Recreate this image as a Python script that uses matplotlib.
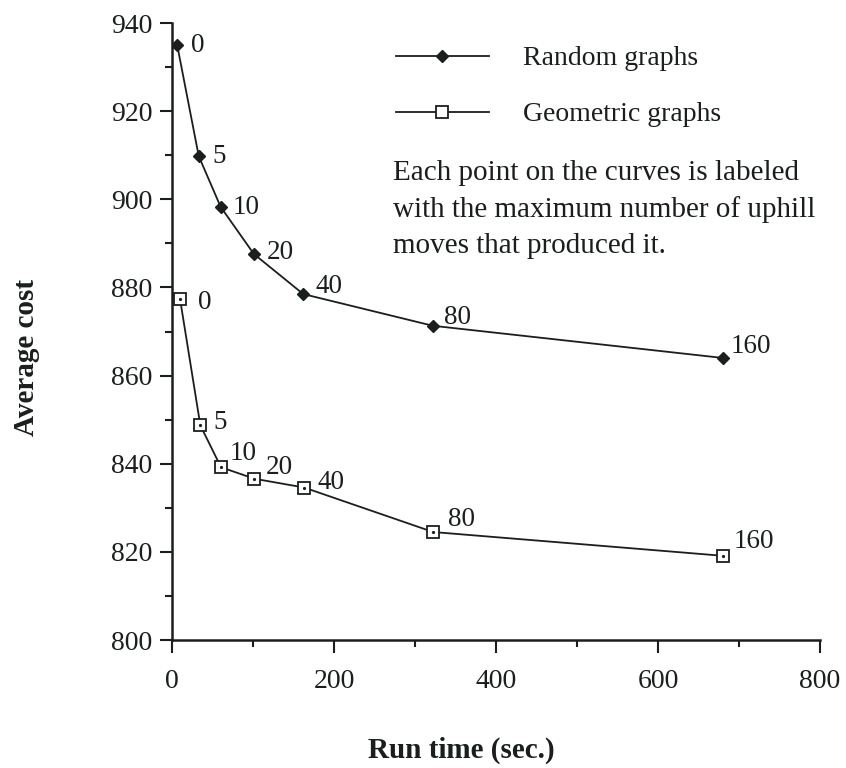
import matplotlib
matplotlib.use("Agg")
import matplotlib.pyplot as plt
from matplotlib.ticker import MultipleLocator

plt.rcParams["font.family"] = ["Liberation Serif", "DejaVu Serif"]

# run time (sec.) vs average cost, one point per uphill-move limit
uphill_labels = ["0", "5", "10", "20", "40", "80", "160"]

random_time = [6.5, 33, 60, 101, 162, 322, 680]
random_cost = [934.9, 909.8, 898.3, 887.6, 878.5, 871.3, 864.0]

geometric_time = [10, 35, 60.5, 101.5, 163, 322.5, 680.5]
geometric_cost = [877.3, 848.7, 839.2, 836.6, 834.6, 824.5, 819.1]

# label offsets in pixels (right, down)
random_offsets = [(14, -3), (14, -3), (12, -2), (13, -4), (12, -11), (11, -11), (8, -14)]
geometric_offsets = [(18, 0), (13, -6), (9, -17), (12, -14), (13, -8), (15, -16), (10, -17)]

INK = "#1a1f1c"

fig = plt.figure(figsize=(8.46, 7.68), dpi=100)
ax = fig.add_axes([172 / 846, 1 - 640 / 768, 648 / 846, 617 / 768])

ax.plot(random_time, random_cost, color=INK, linewidth=1.3, marker="D",
        markersize=6.2, markerfacecolor=INK, markeredgecolor=INK,
        label="Random graphs", zorder=3)
ax.plot(geometric_time, geometric_cost, color=INK, linewidth=1.3, marker="s",
        markersize=8.5, markerfacecolor="white", markeredgecolor=INK,
        markeredgewidth=1.3, label="Geometric graphs", zorder=3)
# little dot in the middle of each open square
ax.plot(geometric_time, geometric_cost, linestyle="none", marker="o",
        markersize=1.3, color=INK, zorder=4)

for t, c, lab, (dx, dy) in zip(random_time, random_cost, uphill_labels, random_offsets):
    ax.annotate(lab, (t, c), xytext=(dx * 0.72, -dy * 0.72), textcoords="offset points",
                ha="left", va="center_baseline", fontsize=19.5, color=INK)
for t, c, lab, (dx, dy) in zip(geometric_time, geometric_cost, uphill_labels, geometric_offsets):
    ax.annotate(lab, (t, c), xytext=(dx * 0.72, -dy * 0.72), textcoords="offset points",
                ha="left", va="center_baseline", fontsize=19.5, color=INK)

ax.set_xlim(0, 800)
ax.set_ylim(800, 940)
ax.xaxis.set_major_locator(MultipleLocator(200))
ax.xaxis.set_minor_locator(MultipleLocator(100))
ax.yaxis.set_major_locator(MultipleLocator(20))
ax.yaxis.set_minor_locator(MultipleLocator(10))

for side in ("top", "right"):
    ax.spines[side].set_visible(False)
for side in ("left", "bottom"):
    ax.spines[side].set_linewidth(1.8)
    ax.spines[side].set_color(INK)
    ax.spines[side].set_clip_on(False)

ax.tick_params(which="major", direction="out", length=9, width=1.5, colors=INK,
               labelsize=20, pad=5)
ax.tick_params(which="minor", direction="out", length=5, width=1.5, colors=INK)
ax.tick_params(axis="x", which="major", pad=12)

leg = ax.legend(loc="upper left", bbox_to_anchor=(207 / 648, 0.99), frameon=False,
                fontsize=20, handlelength=3.35, handletextpad=1.25,
                labelspacing=1.1, numpoints=1, borderaxespad=0.2)
for txt in leg.get_texts():
    txt.set_color(INK)

fig.text(393 / 846, 1 - 160 / 768,
         "Each point on the curves is labeled\nwith the maximum number of uphill\nmoves that produced it.",
         ha="left", va="top", fontsize=21, color=INK, linespacing=1.5)

fig.text(27 / 846, 1 - 357 / 768, "Average cost", rotation=90, ha="center", va="center",
         fontsize=21, fontweight="bold", color=INK)
fig.text(461 / 846, 1 - 750 / 768, "Run time (sec.)", ha="center", va="center",
         fontsize=21, fontweight="bold", color=INK)

fig.savefig("out.png", dpi=100, facecolor="white")
